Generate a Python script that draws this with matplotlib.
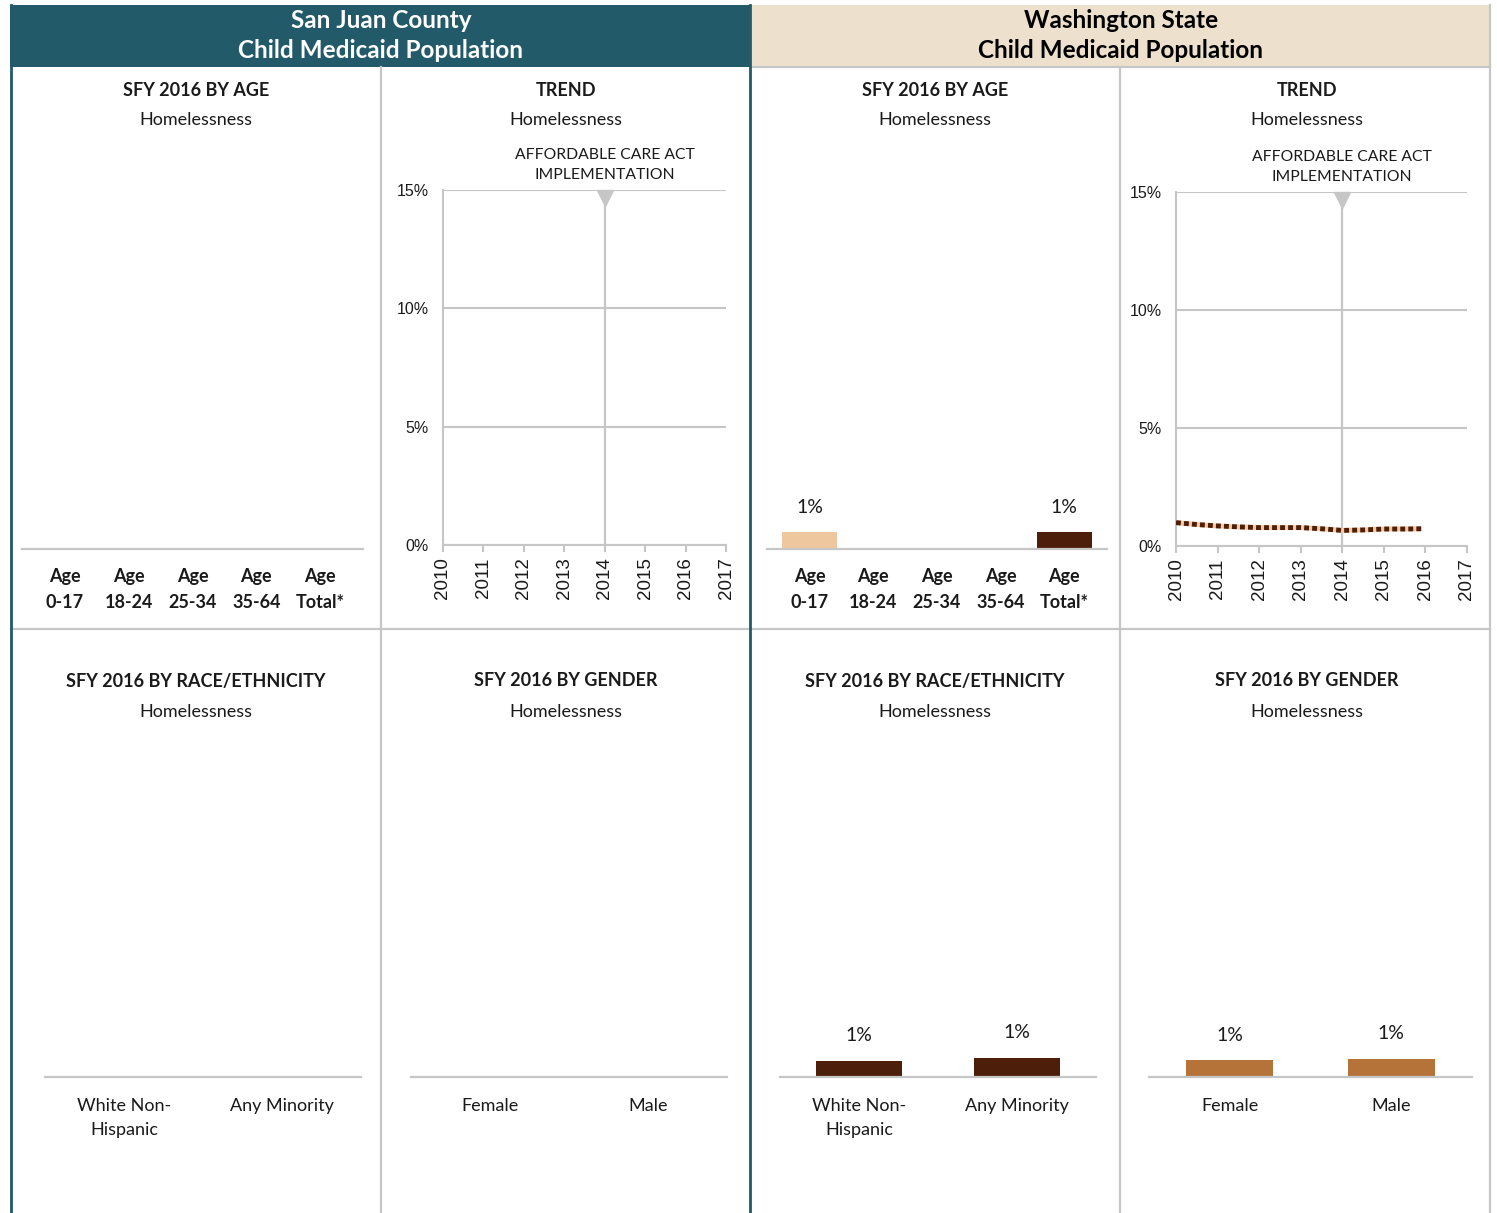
import numpy as np
import matplotlib
matplotlib.use("Agg")
import matplotlib.pyplot as plt
from matplotlib.patches import Rectangle
import matplotlib.transforms as mtransforms

# ---------------- data ----------------
age_labels = ["Age\n0-17", "Age\n18-24", "Age\n25-34", "Age\n35-64", "Age\nTotal*"]
sj_age_values = [np.nan, np.nan, np.nan, np.nan, np.nan]
wa_age_values = [0.007, np.nan, np.nan, np.nan, 0.007]
age_bar_colors = ["#EFC79F", "#EFC79F", "#EFC79F", "#EFC79F", "#4D1F0A"]

race_labels = ["White Non-\nHispanic", "Any Minority"]
sj_race_values = [np.nan, np.nan]
wa_race_values = [0.0068, 0.008]

gender_labels = ["Female", "Male"]
sj_gender_values = [np.nan, np.nan]
wa_gender_values = [0.0071, 0.0076]

trend_tick_years = [2010, 2011, 2012, 2013, 2014, 2015, 2016, 2017]
trend_years = [2010, 2010.5, 2011, 2011.5, 2012, 2012.5, 2013, 2013.5, 2014, 2014.5, 2015, 2015.5, 2015.9]
wa_trend_values = [0.0099, 0.0091, 0.0085, 0.0081, 0.0078, 0.0078, 0.0078, 0.0073, 0.0066, 0.0068, 0.0072, 0.0072, 0.0073]
sj_trend_values = []
aca_year = 2014

# ---------------- styling ----------------
W, H = 1497, 1213
TEAL = "#235A69"
BEIGE = "#EDE1CE"
GRID = "#C6C6C6"
FONT = "Lato"
TICKFONT = "Liberation Sans"
TXT = "#1A1A1A"

fig = plt.figure(figsize=(W / 100, H / 100), dpi=100)
fig.patch.set_facecolor("white")

bg = fig.add_axes([0, 0, 1, 1], zorder=0)
bg.set_xlim(0, W)
bg.set_ylim(H, 0)
bg.axis("off")


def ax_px(x0, y0, x1, y1):
    a = fig.add_axes([x0 / W, 1 - y1 / H, (x1 - x0) / W, (y1 - y0) / H], zorder=2)
    a.patch.set_alpha(0)
    return a


# header boxes
bg.add_patch(Rectangle((10, 5), 740, 62, facecolor=TEAL, edgecolor="none"))
bg.add_patch(Rectangle((752, 5), 738, 62, facecolor=BEIGE, edgecolor="none"))
for cx, col, name in [(381, "white", "San Juan County"), (1121, "black", "Washington State")]:
    bg.text(cx, 21, name, ha="center", va="center", color=col,
            fontsize=17.5, fontweight="bold", family=FONT)
    bg.text(cx, 51, "Child Medicaid Population", ha="center", va="center", color=col,
            fontsize=17.5, fontweight="bold", family=FONT)

# grid lines of the dashboard
bg.plot([381, 381], [67, H], color=GRID, lw=1.6)
bg.plot([1120, 1120], [67, H], color=GRID, lw=1.6)
bg.plot([1490, 1490], [5, H], color=GRID, lw=1.6)
bg.plot([752, 1490], [67, 67], color=GRID, lw=1.6)
bg.plot([11, 1490], [629, 629], color=GRID, lw=1.6)
bg.plot([11, 11], [5, H], color=TEAL, lw=2)
bg.plot([750, 750], [5, H], color=TEAL, lw=2)

# panel titles
top_titles = [(196, "SFY 2016 BY AGE"), (566, "TREND"), (935, "SFY 2016 BY AGE"), (1307, "TREND")]
bot_titles = [(196, "SFY 2016 BY RACE/ETHNICITY"), (566, "SFY 2016 BY GENDER"),
              (935, "SFY 2016 BY RACE/ETHNICITY"), (1307, "SFY 2016 BY GENDER")]
for x, t in top_titles:
    bg.text(x, 90, t, ha="center", va="center", fontsize=13, fontweight="bold", family=FONT, color=TXT)
    bg.text(x, 120, "Homelessness", ha="center", va="center", fontsize=13, family=FONT, color=TXT)
for x, t in bot_titles:
    bg.text(x, 681, t, ha="center", va="center", fontsize=13, fontweight="bold", family=FONT, color=TXT)
    bg.text(x, 712, "Homelessness", ha="center", va="center", fontsize=13, family=FONT, color=TXT)


def style_bar_axes(a):
    for s in ["top", "right", "left"]:
        a.spines[s].set_visible(False)
    a.spines["bottom"].set_color(GRID)
    a.spines["bottom"].set_linewidth(1.6)
    a.set_yticks([])
    a.tick_params(axis="x", length=0)


def bar_panel(box, labels, values, colors, width, xlim, bold, pad):
    a = ax_px(*box)
    x = np.arange(len(labels))
    a.bar(x, values, width=width, color=colors)
    a.set_xlim(*xlim)
    a.set_ylim(0, 0.15)
    style_bar_axes(a)
    a.set_xticks(x)
    a.set_xticklabels(labels, fontsize=13, family=FONT, color=TXT,
                      fontweight="bold" if bold else "normal", linespacing=1.6)
    a.tick_params(axis="x", pad=pad)
    for xi, v in zip(x, values):
        if not np.isnan(v):
            a.annotate(f"{v:.0%}" if v >= 0.005 else "<1%", (xi, v), xytext=(0, 18),
                       textcoords="offset points", ha="center", va="center",
                       fontsize=14, family=FONT, color=TXT)
    return a


bar_panel((22, 190, 363, 549), age_labels, sj_age_values, age_bar_colors, 0.86, (-0.67, 4.67), True, 14)
bar_panel((767, 190, 1107, 549), age_labels, wa_age_values, age_bar_colors, 0.86, (-0.67, 4.67), True, 14)

bar_panel((45, 720, 361, 1077), race_labels, sj_race_values, ["#4D1F0A"] * 2, 0.54, (-0.5, 1.5), False, 15)
bar_panel((780, 720, 1096, 1077), race_labels, wa_race_values, ["#4D1F0A"] * 2, 0.54, (-0.5, 1.5), False, 15)
bar_panel((411, 720, 727, 1077), gender_labels, sj_gender_values, ["#B5733A"] * 2, 0.54, (-0.5, 1.5), False, 15)
bar_panel((1149, 720, 1472, 1077), gender_labels, wa_gender_values, ["#B5733A"] * 2, 0.54, (-0.5, 1.5), False, 15)


def trend_panel(box, years, values):
    a = ax_px(*box)
    a.set_xlim(trend_tick_years[0], trend_tick_years[-1])
    a.set_ylim(0, 0.15)
    a.set_yticks([0, 0.05, 0.10, 0.15])
    a.set_yticklabels(["0%", "5%", "10%", "15%"], family=TICKFONT, fontsize=11.5, color=TXT)
    a.set_xticks(trend_tick_years)
    a.set_xticklabels([str(y) for y in trend_tick_years], rotation=90,
                      family=TICKFONT, fontsize=13.5, color=TXT)
    a.grid(axis="y", color=GRID, lw=1.5)
    a.set_axisbelow(True)
    for s in ["top", "right"]:
        a.spines[s].set_visible(False)
    for s in ["left", "bottom"]:
        a.spines[s].set_color(GRID)
        a.spines[s].set_linewidth(1.5)
    a.tick_params(axis="both", color=GRID, width=1.5, length=5)
    a.tick_params(axis="y", pad=10, length=0)
    a.tick_params(axis="x", pad=4)
    a.plot([aca_year, aca_year], [0, 0.15], color=GRID, lw=1.6, zorder=1)
    a.plot([aca_year], [0.1465], marker="v", markersize=11, color=GRID,
           markeredgecolor=GRID, clip_on=False, zorder=1)
    a.text(aca_year, 1.022, "AFFORDABLE CARE ACT\nIMPLEMENTATION", ha="center", va="bottom",
           transform=mtransforms.blended_transform_factory(a.transData, a.transAxes),
           fontsize=11.3, family=FONT, color=TXT, linespacing=1.55)
    if len(values):
        a.plot(years, values, color="#F2C9A0", lw=3.5, solid_capstyle="butt", zorder=3)
        a.plot(years, values, color="#4D1F0A", lw=3.5, linestyle=(0, (1, 0.65)), zorder=4)
    return a


trend_panel((443, 190, 726, 545), trend_years[:0], sj_trend_values)
trend_panel((1176, 192, 1467, 546), trend_years, wa_trend_values)

fig.savefig("out.png", dpi=100, facecolor="white")
